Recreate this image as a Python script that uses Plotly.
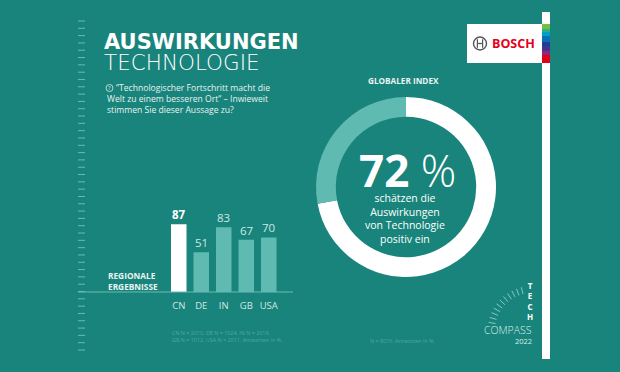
import math
import plotly.graph_objects as go

# ---- data ----
countries = ["CN", "DE", "IN", "GB", "USA"]
regional_values = [87, 51, 83, 67, 70]
global_index = [72, 28]  # positive, rest

W, H = 620, 372
BG = "#19847b"
LIGHT = "#5fbab1"
PALE_TXT = "#cfe8e4"
FOOT = "#4ea9a0"
FONT = "Open Sans"


def px(x):
    return x / W


def py(y):
    return 1 - y / H


fig = go.Figure()

bar_colors = ["white"] + [LIGHT] * (len(countries) - 1)
fig.add_trace(go.Bar(
    x=countries, y=regional_values,
    marker=dict(color=bar_colors, line=dict(width=0)),
    hoverinfo="skip", showlegend=False,
))

fig.add_trace(go.Pie(
    values=global_index,
    sort=False, direction="clockwise", rotation=0,
    hole=0.78,
    marker=dict(colors=["white", LIGHT], line=dict(width=0)),
    textinfo="none", hoverinfo="skip", showlegend=False,
    domain=dict(x=[px(316), px(496)], y=[py(277), py(97)]),
))

shapes = []
# left ruler ticks
n_ticks = 46
for i in range(n_ticks):
    yy = 21 + i * (350 - 21) / (n_ticks - 1)
    shapes.append(dict(type="line", xref="paper", yref="paper",
                       x0=px(78), x1=px(85), y0=py(yy), y1=py(yy),
                       line=dict(color="#67bcb3", width=1)))
# baseline
shapes.append(dict(type="line", xref="paper", yref="paper",
                   x0=px(78), x1=px(293), y0=py(292), y1=py(292),
                   line=dict(color="#67bcb3", width=1)))
# question circle icon
shapes.append(dict(type="circle", xref="paper", yref="paper",
                   x0=px(106), x1=px(113), y0=py(91.5), y1=py(84.5),
                   line=dict(color="#d8eeeb", width=0.8)))
# Bosch logo box
shapes.append(dict(type="rect", xref="paper", yref="paper",
                   x0=px(467), x1=px(542), y0=py(63), y1=py(24),
                   fillcolor="white", line=dict(width=0)))
# vertical white strip
shapes.append(dict(type="rect", xref="paper", yref="paper",
                   x0=px(542), x1=px(550), y0=py(359), y1=py(12),
                   fillcolor="white", line=dict(width=0)))
# colour stripe
stripe = [(24, 29, "#78be3c"), (29, 32, "#2eb08c"), (32, 36, "#00a2c3"),
          (36, 42, "#0a6fba"), (42, 47, "#1f3f93"), (47, 51, "#4b2f8a"),
          (51, 55, "#8a2a78"), (55, 63, "#e2001a")]
for y0, y1, c in stripe:
    shapes.append(dict(type="rect", xref="paper", yref="paper",
                       x0=px(542), x1=px(550), y0=py(y1), y1=py(y0),
                       fillcolor=c, line=dict(width=0)))
# Bosch emblem
cx, cy, r = 480, 43.5, 6.5
shapes.append(dict(type="circle", xref="paper", yref="paper",
                   x0=px(cx - r), x1=px(cx + r), y0=py(cy + r), y1=py(cy - r),
                   line=dict(color="#555555", width=1.4)))
for dx in (-2.6, 2.6):
    shapes.append(dict(type="line", xref="paper", yref="paper",
                       x0=px(cx + dx), x1=px(cx + dx), y0=py(cy + 4.3), y1=py(cy - 4.3),
                       line=dict(color="#555555", width=1.2)))
shapes.append(dict(type="line", xref="paper", yref="paper",
                   x0=px(cx - 2.6), x1=px(cx + 2.6), y0=py(cy), y1=py(cy),
                   line=dict(color="#555555", width=1.2)))
# tech compass arc ticks
acx, acy = 532, 330
for k in range(11):
    ang = math.radians(104 + k * 6.6)
    r0, r1 = 37, 44
    x0 = acx + r0 * math.cos(ang)
    y0 = acy - r0 * math.sin(ang)
    x1 = acx + r1 * math.cos(ang)
    y1 = acy - r1 * math.sin(ang)
    shapes.append(dict(type="line", xref="paper", yref="paper",
                       x0=px(x0), x1=px(x1), y0=py(y0), y1=py(y1),
                       line=dict(color="#8fd0c8", width=0.9)))

ann = []


def A(text, x, y, size, color="white", weight="normal", xanchor="left",
      yanchor="middle", align="left", family=FONT):
    ann.append(dict(text=text, x=px(x), y=py(y), xref="paper", yref="paper",
                    xanchor=xanchor, yanchor=yanchor, align=align,
                    showarrow=False,
                    font=dict(size=size, color=color, family=family, weight=weight)))


A("AUSWIRKUNGEN", 102, 41.5, 21, weight="bold", family="DejaVu Sans")
A("TECHNOLOGIE", 102, 63, 21.5, weight=200, family="DejaVu Sans")
A("?", 109.5, 88, 6, color="#d8eeeb", xanchor="center")
A("“Technologischer Fortschritt macht die", 114, 88, 8.6, color="#e6f3f1")
A("Welt zu einem besseren Ort“ – Inwieweit<br>stimmen Sie dieser Aussage zu?",
  105, 104.5, 8.6, color="#e6f3f1")
A("REGIONALE<br>ERGEBNISSE", 106, 280.5, 8.3, color="#e8f4f2", weight="bold")
A("CN N = 2010, DE N = 1024, IN N = 2019,<br>GB N = 1012, USA N = 2011. Antworten in %.",
  170, 336.7, 5.4, color=FOOT)
A("N = 8076. Antworten in %.", 438, 340.7, 5.4, color=FOOT, xanchor="right")
A("GLOBALER INDEX", 403, 80, 8.2, color="#eaf5f3", weight="bold", xanchor="center")
A(f"<b>{global_index[0]}</b> %", 407, 170, 44, weight=300, xanchor="center")
A("schätzen die<br>Auswirkungen<br>von Technologie<br>positiv ein",
  405, 218.5, 10.5, xanchor="center", align="center")
A("BOSCH", 513, 43.5, 12.5, color="#e2001a", weight="bold", xanchor="center")
A("T<br>E<br>C<br>H", 530, 301, 8, color="white", weight="bold", xanchor="center",
  align="center")
A("COMPASS", 534, 329.5, 10.5, color="#d9efec", weight=300, xanchor="right")
A("2022", 534, 341, 7.5, color="#d9efec", xanchor="right")

# bar value labels (data coordinates)
for i, (c, v) in enumerate(zip(countries, regional_values)):
    ann.append(dict(text=str(v), x=c, y=v, xref="x", yref="y",
                    xanchor="center", yanchor="bottom", yshift=0, showarrow=False,
                    font=dict(size=11.5, family=FONT,
                              color="white" if i == 0 else PALE_TXT,
                              weight="bold" if i == 0 else "normal")))

fig.update_layout(
    width=W, height=H, autosize=False,
    margin=dict(l=0, r=0, t=0, b=0),
    paper_bgcolor=BG, plot_bgcolor="rgba(0,0,0,0)",
    bargap=0.31,
    shapes=shapes, annotations=ann,
    xaxis=dict(domain=[px(167.5), px(280)], range=[-0.5, 4.5],
               showgrid=False, zeroline=False, showline=False, ticks="",
               tickfont=dict(size=9.5, color=PALE_TXT, family=FONT),
               ticklabelstandoff=6, fixedrange=True),
    yaxis=dict(domain=[py(292), py(214)], range=[0, 100], visible=False,
               showgrid=False, zeroline=False, fixedrange=True),
    font=dict(family=FONT),
)

fig.write_html("out.html", config=dict(displayModeBar=False))
